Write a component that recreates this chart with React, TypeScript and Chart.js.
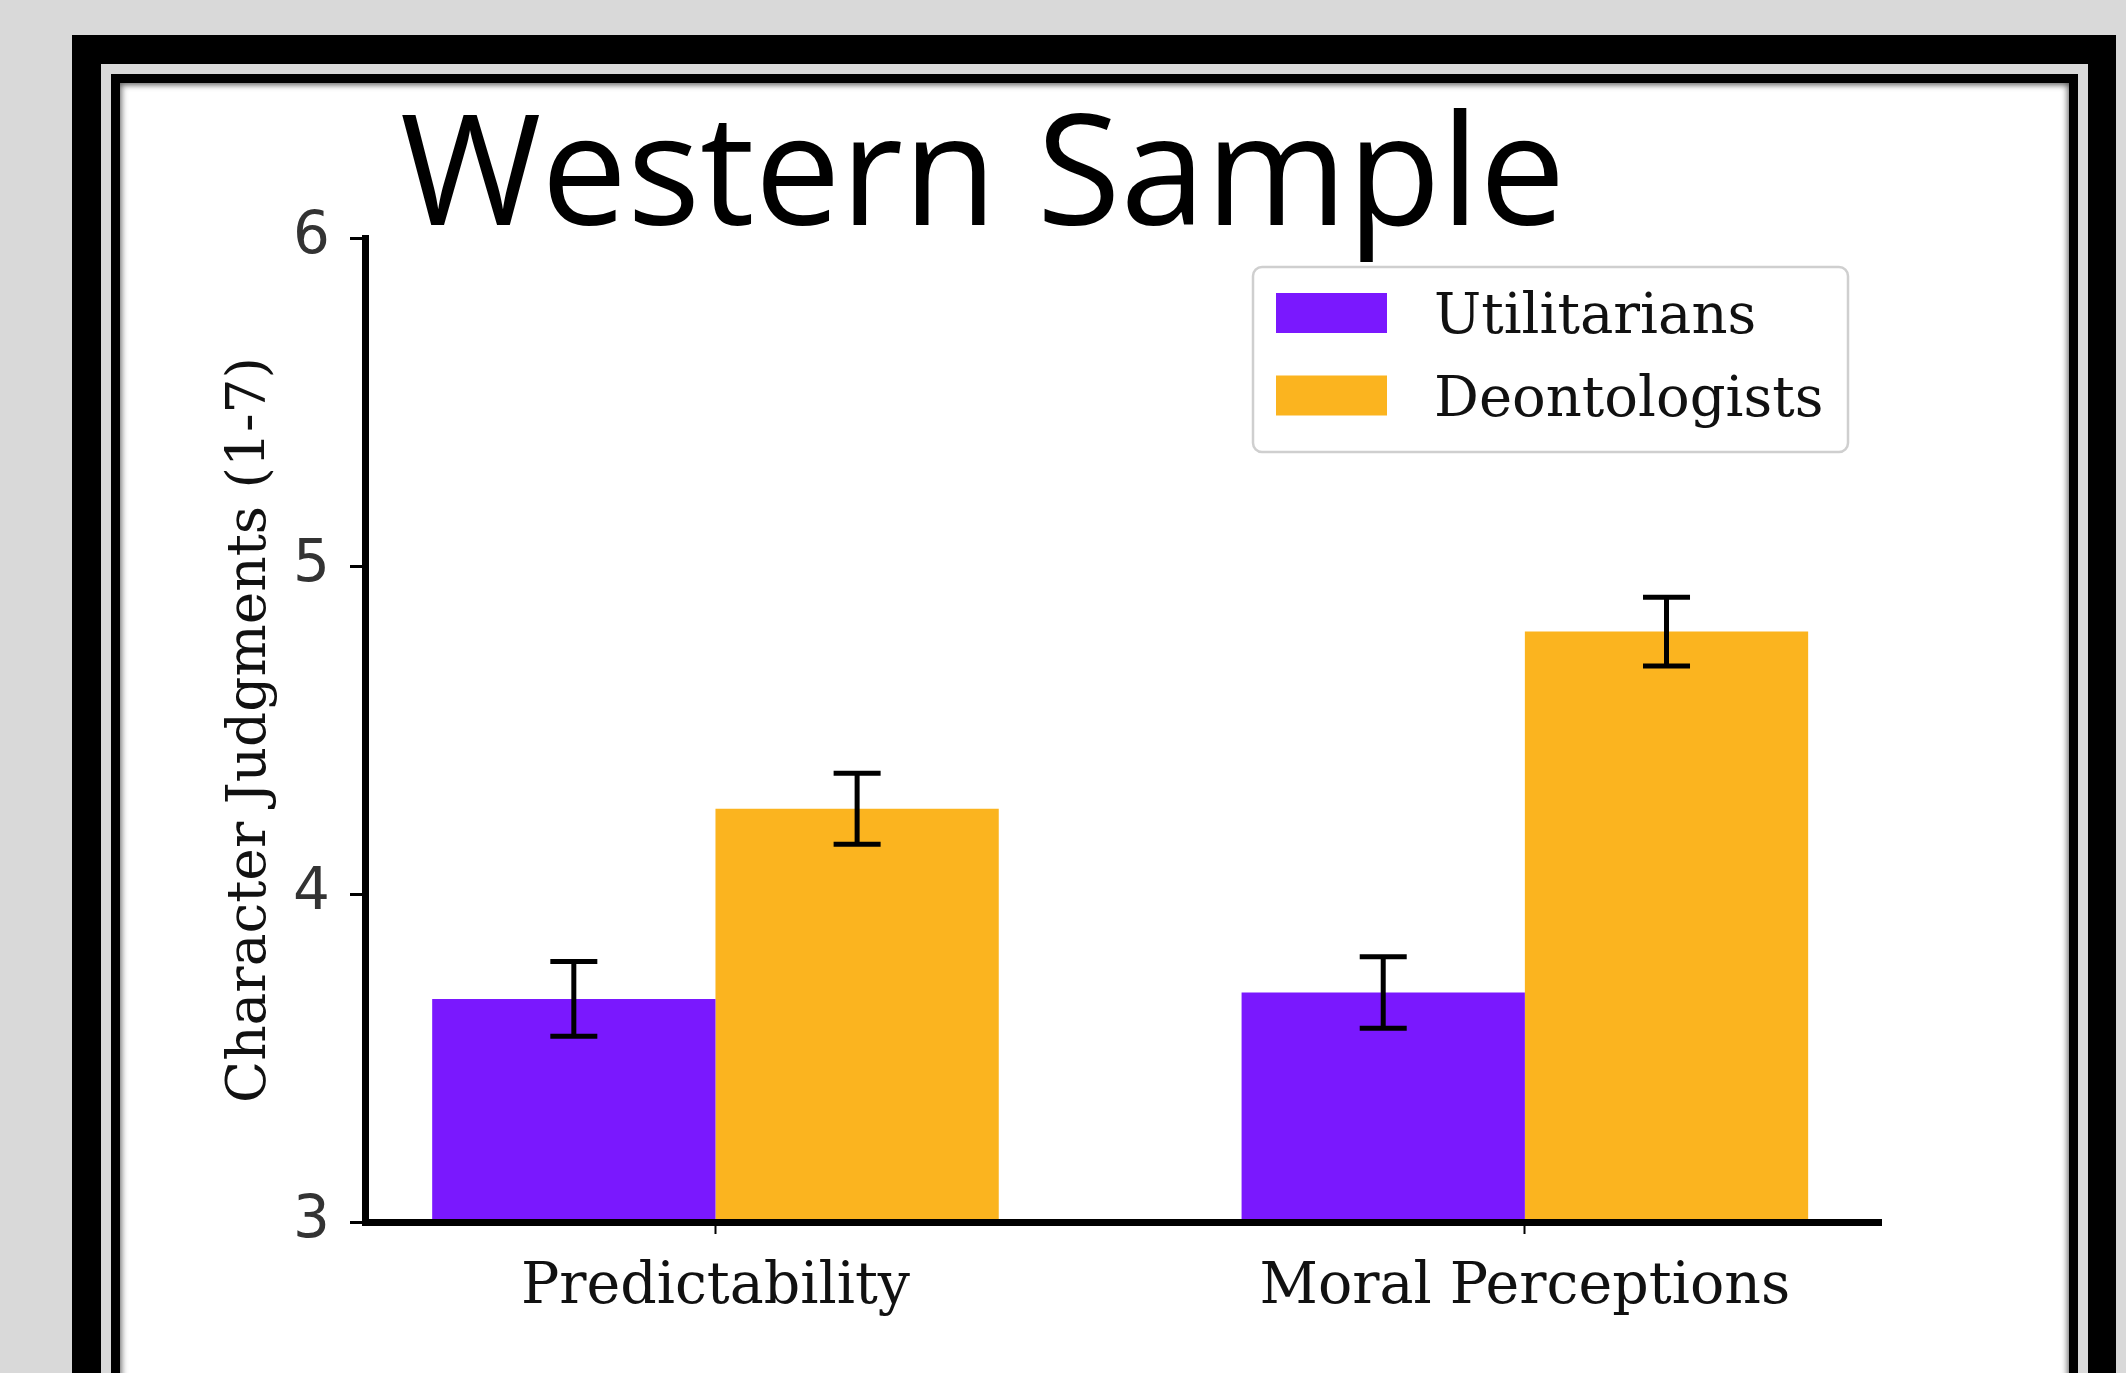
import React, { useEffect, useRef } from 'react';
import { Chart, registerables } from 'chart.js';

Chart.register(...registerables);

// ---- data ----
const categories = ['Predictability', 'Moral Perceptions'];
const seriesLabels = ['Utilitarians', 'Deontologists'];
const utilitarians = [3.68, 3.70];
const deontologists = [4.26, 4.80];
const utilitariansErr = [0.114, 0.109];
const deontologistsErr = [0.108, 0.105];
const yTicks = [3, 4, 5, 6];
const titleText = 'Western Sample';
const yAxisTitle = 'Character Judgments (1-7)';
const seriesColors = ['#7a18fe', '#fbb41f'];

const SERIF = '"DejaVu Serif", serif';

export default function App() {
  const ref = useRef<HTMLCanvasElement>(null);

  useEffect(() => {
    const errs = [utilitariansErr, deontologistsErr];

    const errorBars = {
      id: 'errorBars',
      afterDatasetsDraw(chart: any) {
        const ctx = chart.ctx;
        const yScale = chart.scales.y;
        ctx.save();
        ctx.strokeStyle = '#000';
        ctx.lineCap = 'butt';
        chart.data.datasets.forEach((ds: any, d: number) => {
          const meta = chart.getDatasetMeta(d);
          meta.data.forEach((el: any, i: number) => {
            const v = ds.data[i].y;
            const e = errs[d][i];
            const x = el.x;
            const yt = yScale.getPixelForValue(v + e);
            const yb = yScale.getPixelForValue(v - e);
            ctx.lineWidth = 5;
            ctx.beginPath();
            ctx.moveTo(x, yt);
            ctx.lineTo(x, yb);
            ctx.stroke();
            ctx.beginPath();
            ctx.moveTo(x - 23.5, yt);
            ctx.lineTo(x + 23.5, yt);
            ctx.moveTo(x - 23.5, yb);
            ctx.lineTo(x + 23.5, yb);
            ctx.stroke();
          });
        });
        ctx.restore();
      },
    };

    const legendBox = {
      id: 'legendBox',
      afterDraw(chart: any) {
        const ctx = chart.ctx;
        const area = chart.chartArea;
        const w = 595;
        const h = 185;
        const left = area.right - 33 - w;
        const top = area.top + 29;
        ctx.save();
        ctx.fillStyle = 'rgba(255,255,255,0.9)';
        ctx.strokeStyle = '#cfcfcf';
        ctx.lineWidth = 2.5;
        ctx.beginPath();
        (ctx as any).roundRect(left, top, w, h, 9);
        ctx.fill();
        ctx.stroke();
        const rows = [46, 128.5];
        chart.data.datasets.forEach((ds: any, d: number) => {
          const cy = top + rows[d];
          ctx.fillStyle = ds.backgroundColor;
          ctx.fillRect(left + 23, cy - 20, 111, 40);
          ctx.fillStyle = '#111';
          ctx.font = `56px ${SERIF}`;
          ctx.textAlign = 'left';
          ctx.textBaseline = 'alphabetic';
          ctx.fillText(ds.label, left + 181, cy + 20);
        });
        ctx.restore();
      },
    };

    const slideTitle = {
      id: 'slideTitle',
      afterDraw(chart: any) {
        const ctx = chart.ctx;
        ctx.save();
        ctx.fillStyle = '#000';
        ctx.font = '153px "Open Sans", sans-serif';
        ctx.textAlign = 'left';
        ctx.textBaseline = 'alphabetic';
        ctx.fillText(titleText, 280, 142);
        ctx.restore();
      },
    };

    const chart = new Chart(ref.current as HTMLCanvasElement, {
      type: 'bar',
      data: {
        datasets: [
          {
            label: seriesLabels[0],
            data: categories.map((_, i) => ({ x: i, y: utilitarians[i] })),
            backgroundColor: seriesColors[0],
            borderWidth: 0,
          },
          {
            label: seriesLabels[1],
            data: categories.map((_, i) => ({ x: i, y: deontologists[i] })),
            backgroundColor: seriesColors[1],
            borderWidth: 0,
          },
        ],
      },
      options: {
        responsive: false,
        animation: false,
        events: [],
        layout: { padding: { left: 94, top: 155, right: 188, bottom: 41 } },
        datasets: { bar: { barPercentage: 1, categoryPercentage: 0.7 } },
        plugins: {
          legend: { display: false },
          tooltip: { enabled: false },
          title: { display: false },
        },
        scales: {
          x: {
            type: 'linear',
            min: -0.433,
            max: 1.44,
            offset: false,
            afterBuildTicks: (scale: any) => {
              scale.ticks = categories.map((_, i) => ({ value: i }));
            },
            afterFit: (scale: any) => {
              scale.height = 110;
            },
            ticks: {
              autoSkip: false,
              maxRotation: 0,
              minRotation: 0,
              padding: 20,
              color: '#111',
              font: { family: SERIF, size: 57 },
              callback: (_v: any, i: number) => categories[i],
            },
            grid: {
              display: true,
              offset: false,
              drawOnChartArea: false,
              drawTicks: true,
              tickLength: 12,
              tickWidth: 2,
              tickColor: '#000',
            },
            border: { display: true, color: '#000', width: 7, z: 1 },
          },
          y: {
            type: 'linear',
            min: 3,
            max: 6,
            afterBuildTicks: (scale: any) => {
              scale.ticks = yTicks.map((v) => ({ value: v }));
            },
            afterFit: (scale: any) => {
              scale.width = 151;
            },
            ticks: {
              padding: 20,
              color: '#333',
              font: { family: '"DejaVu Sans", sans-serif', size: 58 },
              callback: (v: any) => String(v),
            },
            grid: {
              display: true,
              offset: false,
              drawOnChartArea: false,
              drawTicks: true,
              tickLength: 15,
              tickWidth: 3,
              tickColor: '#000',
            },
            border: { display: true, color: '#000', width: 7, z: 1 },
            title: {
              display: true,
              text: yAxisTitle,
              color: '#111',
              font: { family: SERIF, size: 55 },
            },
          },
        },
      },
      plugins: [errorBars, legendBox, slideTitle],
    } as any);

    return () => chart.destroy();
  }, []);

  return (
    <div
      style={{
        position: 'fixed',
        left: 0,
        top: 0,
        width: 2126,
        height: 1373,
        background: '#d9d9d9',
        overflow: 'hidden',
      }}
    >
      <div style={{ position: 'absolute', left: 72, top: 35, width: 2044, height: 1400, background: '#000' }} />
      <div style={{ position: 'absolute', left: 101, top: 64, width: 1987, height: 1400, background: '#d9d9d9' }} />
      <div style={{ position: 'absolute', left: 111, top: 74, width: 1967, height: 1400, background: '#000' }} />
      <div
        style={{
          position: 'absolute',
          left: 120,
          top: 83,
          width: 1949,
          height: 1400,
          background: '#fff',
          boxShadow: 'inset 2px 2px 6px rgba(0,0,0,0.45), inset -2px 0 6px rgba(0,0,0,0.45)',
        }}
      >
        <canvas ref={ref} width={1949} height={1290} style={{ display: 'block' }} />
      </div>
    </div>
  );
}
